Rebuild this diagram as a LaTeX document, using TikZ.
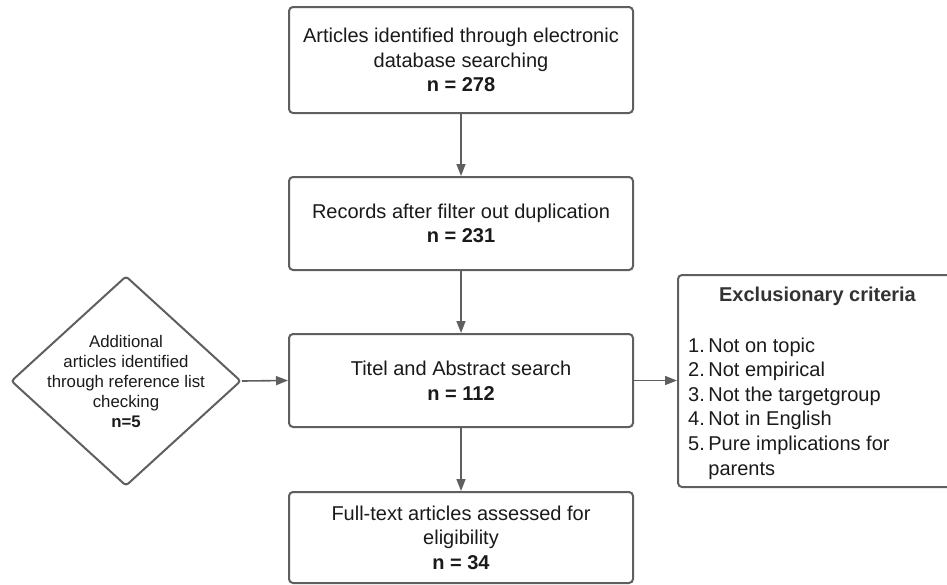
\documentclass[tikz,border=0pt]{standalone}
\usepackage{fontspec}
\setmainfont{Liberation Sans}
\usetikzlibrary{arrows.meta,shapes.geometric}
\definecolor{edge}{HTML}{5F5F5F}
\definecolor{ink}{HTML}{1A1A1A}
\definecolor{titleink}{HTML}{333333}
\tikzset{
  flowbox/.style={draw=edge, line width=2pt, rounded corners=4pt, fill=white,
    minimum width=344pt, align=center, text=ink, inner sep=0pt,
    font=\fontsize{20}{24.5}\selectfont},
  conn/.style={draw=edge, line width=1.6pt,
    -{Triangle[length=12pt,width=9pt]}},
}
\begin{document}
\begin{tikzpicture}[x=1pt,y=-1pt]
\useasboundingbox (0,0) rectangle (947,584);

\node[flowbox, minimum height=106pt] (b1) at (461,60)
  {Articles identified through electronic\\database searching\\\textbf{n = 278}};
\node[flowbox, minimum height=93pt] (b2) at (461,223.5)
  {Records after filter out duplication\\\textbf{n = 231}};
\node[flowbox, minimum height=93pt] (b3) at (461,380.5)
  {Titel and Abstract search\\\textbf{n = 112}};
\node[flowbox, minimum height=91pt] (b4) at (461,537.5)
  {Full-text articles assessed for\\eligibility\\\textbf{n = 34}};

\node[draw=edge, line width=2pt, rounded corners=3pt, diamond, inner sep=0pt,
  minimum width=230pt, minimum height=210pt] (dia) at (126,381) {};
\node[align=center, text=ink, inner sep=0pt,
  font=\fontsize{16.8}{20}\selectfont] (diatext) at (dia.center)
  {Additional\\articles identified\\through reference list\\checking\\\textbf{n=5}};

\node[draw=edge, line width=2pt, rounded corners=4pt, inner sep=0pt,
  minimum width=279pt, minimum height=212pt] (ex) at (817.5,381) {};
\node[text=titleink, inner sep=0pt, font=\fontsize{20}{24.5}\selectfont\bfseries,
  anchor=base] (extitle) at (817.5,301) {Exclusionary criteria};
\node[text=ink, inner sep=0pt, anchor=base west,
  font=\fontsize{20}{24.6}\selectfont] (exlist) at (688,352)
  {\begin{tabular}[t]{@{}r@{\hspace{3.5pt}}l@{}}
   1.& Not on topic\\
   2.& Not empirical\\
   3.& Not the targetgroup\\
   4.& Not in English\\
   5.& Pure implications for\\
     & parents
   \end{tabular}};

\draw[conn] (b1.south) -- (b2.north);
\draw[conn] (b2.south) -- (b3.north);
\draw[conn] (b3.south) -- (b4.north);
\draw[conn] (dia.east) -- (b3.west);
\draw[conn] (b3.east) -- (b3.east -| ex.west);
\end{tikzpicture}
\end{document}
